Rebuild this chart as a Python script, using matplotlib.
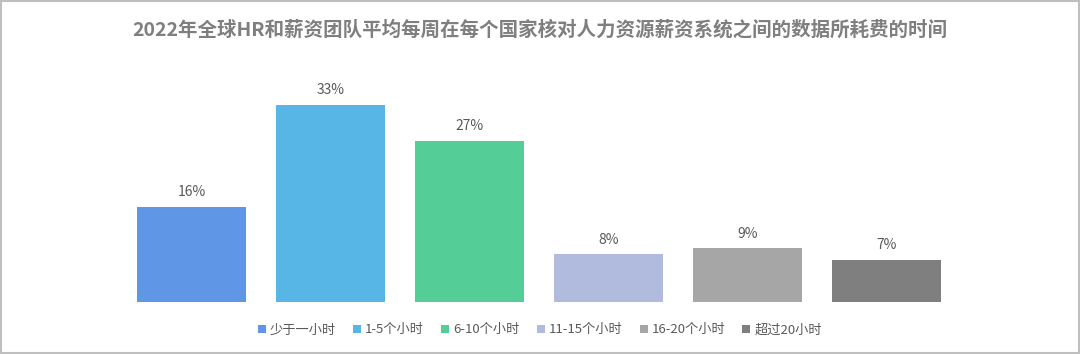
import matplotlib.pyplot as plt
from matplotlib.patches import Rectangle

plt.rcParams['font.family'] = ['Noto Sans CJK SC', 'DejaVu Sans']

categories = ["少于一小时", "1-5个小时", "6-10个小时", "11-15个小时", "16-20个小时", "超过20小时"]
values = [16, 33, 27, 8, 9, 7]
colors = ["#5F96E6", "#57B6E6", "#55CD96", "#B0BBDE", "#A6A6A6", "#7F7F7F"]

fig = plt.figure(figsize=(10.8, 3.54), dpi=100)
ax = fig.add_axes([122 / 1080, 1 - 302 / 354, 834 / 1080, 210 / 354])

handles = []
for i, (cat, v, c) in enumerate(zip(categories, values, colors)):
    b = ax.bar(i, v, width=0.79, color=c, label=cat)
    handles.append(b)
    ax.text(i, v + 1.3, f"{v}%", ha="center", va="bottom", fontsize=10, color="#595959")

ax.set_xlim(-0.5, 5.5)
ax.set_ylim(0, 35.2)
ax.axis("off")

fig.suptitle("2022年全球HR和薪资团队平均每周在每个国家核对人力资源薪资系统之间的数据所耗费的时间",
             x=0.5, y=1 - 30 / 354, va="center", fontsize=14, fontweight="bold", color="#7F7F7F")

fig.legend(handles=handles, labels=categories, loc="center", bbox_to_anchor=(0.5, 1 - 330 / 354),
           ncol=6, frameon=False, fontsize=9.5, labelcolor="#595959",
           handlelength=0.6, handleheight=0.6, handletextpad=0.3, columnspacing=1.3)

fig.patches.append(Rectangle((0.001, 0.003), 0.998, 0.994, transform=fig.transFigure,
                             fill=False, edgecolor="#BFBFBF", linewidth=1.5))

fig.savefig("out.png", dpi=100)
